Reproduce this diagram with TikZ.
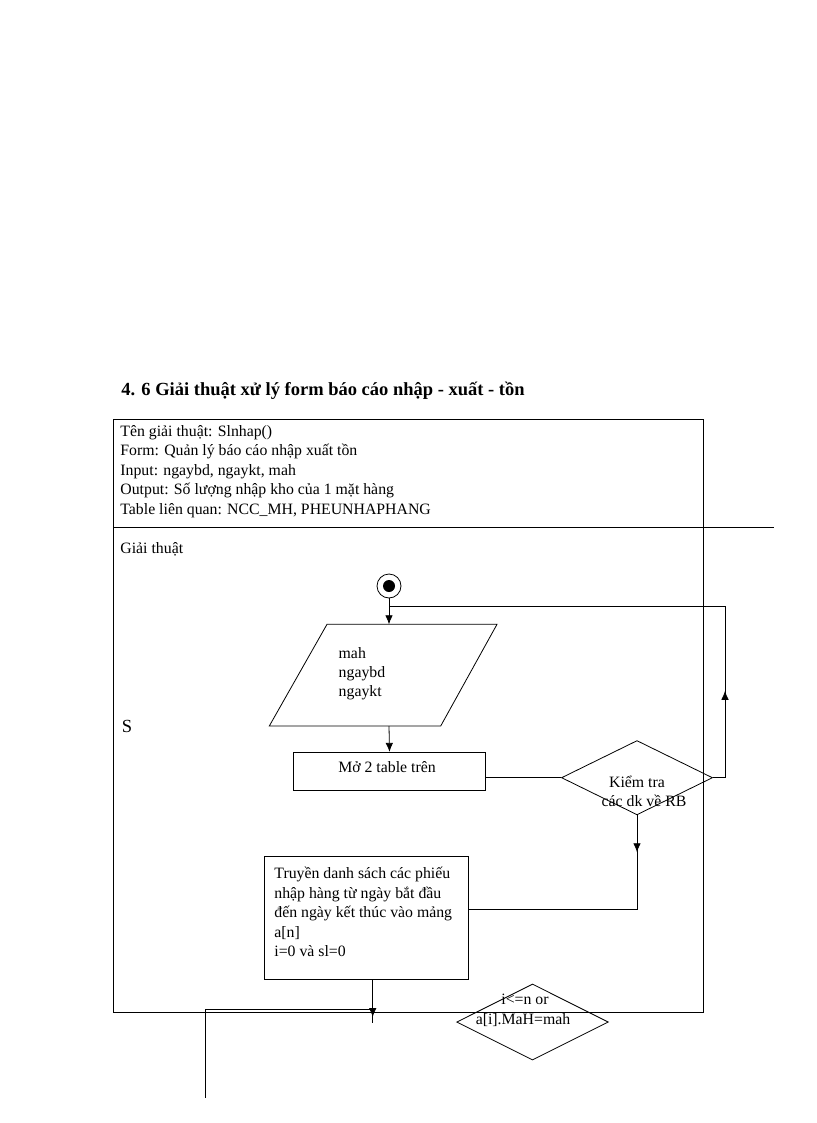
\documentclass[tikz,border=0pt]{standalone}
\usepackage{fontspec}
\setmainfont{Liberation Serif}
\usetikzlibrary{arrows.meta,shapes.geometric,decorations.markings}
\begin{document}
\begin{tikzpicture}[x=1pt,y=-1pt, line width=0.8pt,
  txt/.style={anchor=base west, inner sep=0pt, font=\fontsize{15.8}{19.4}\selectfont},
  ctxt/.style={anchor=base, inner sep=0pt, font=\fontsize{15.8}{19.4}\selectfont},
  arr/.style={-{Latex[length=9pt,width=7.5pt]}},
  box/.style={draw, rectangle, inner sep=0pt},
  dia/.style={draw, diamond, inner sep=0pt, aspect=2},
  midarr/.style={postaction={decorate}, decoration={markings, mark=at position #1 with {\arrow{Latex[length=9pt,width=7.5pt]}}}}
]
\useasboundingbox (0,0) rectangle (816,1123);

% title
\node[anchor=base west, inner sep=0pt, font=\bfseries\fontsize{18.5}{22}\selectfont] (title) at (121,395) {4. 6 Giải thuật xử lý form báo cáo nhập - xuất - tồn};

% frame
\node[box, minimum width=590pt, minimum height=593.7pt] (frame) at (408.3,715.85) {};
\coordinate (sepL) at (113.3,527);
\coordinate (sepR) at (774.3,527);
\draw (sepL) -- (sepR);

% header text
\node[txt] (h1) at (120,436) {Tên giải thuật: Slnhap()};
\node[txt] (h2) at (120,455.3) {Form: Quản lý báo cáo nhập xuất tồn};
\node[txt] (h3) at (120,475) {Input: ngaybd, ngaykt,\ mah};
\node[txt] (h4) at (120,494.7) {Output: Số lượng nhập kho của 1 mặt hàng};
\node[txt] (h5) at (120,514) {Table liên quan: NCC\_MH, PHEUNHAPHANG};
\node[txt] (h6) at (120,553.3) {Giải thuật};
\node[anchor=base west, inner sep=0pt, font=\fontsize{18.5}{22}\selectfont] (S) at (121.5,732.7) {S};

% start
\node[circle, draw, minimum size=24pt, inner sep=0pt] (start) at (389,586) {};
\node[circle, fill, minimum size=12pt, inner sep=0pt] (startdot) at (start) {};

% input parallelogram
\draw (327,624.3) -- (497,624.3) -- (440.7,726) -- (269.3,726) -- cycle;
\coordinate (pt) at (389,624.3);
\coordinate (pb) at (389,726);
\node[txt] (in1) at (338.3,658) {mah};
\node[txt] (in2) at (338.3,677.3) {ngaybd};
\node[txt] (in3) at (338.3,696.7) {ngaykt};

% rect 1
\node[box, minimum width=192.4pt, minimum height=38pt] (r1) at (389.5,771.3) {};
\node[ctxt] (r1t) at (387,772.7) {Mở 2 table trên};

% diamond 1
\node[dia, minimum width=151pt, minimum height=74.3pt] (d1) at (637,777.7) {};
\node[ctxt] (d1a) at (637,787.5) {Kiểm tra};
\node[ctxt] (d1b) at (644,806.5) {các dk về RB};

% rect 2
\node[box, minimum width=204pt, minimum height=123.3pt] (r2) at (366.3,917.6) {};
\node[txt] (r2a) at (274,878.7) {Truyền\ danh sách các phiếu};
\node[txt] (r2b) at (274,898) {nhập hàng từ ngày bắt đầu};
\node[txt] (r2c) at (274,917.3) {đến ngày kết thúc vào mảng};
\node[txt] (r2d) at (274,937) {a[n]};
\node[txt] (r2e) at (274,956.3) {i=0 và sl=0};

% diamond 2
\node[dia, minimum width=151.6pt, minimum height=76pt] (d2) at (532.5,1022) {};
\node[ctxt] (d2a) at (525,1004.5) {i<=n or};
\node[ctxt] (d2b) at (523,1024.5) {a[i].MaH=mah};

% connectors
\coordinate (loopjoin) at (389,606.7);
\coordinate (loopR) at (725,777.7);
\coordinate (c2) at (637,909.3);
\coordinate (c5) at (372.7,1022.7);
\coordinate (c6) at (372.7,1009.3);
\coordinate (c7) at (205,1009.3);
\coordinate (c8) at (205,1098.3);

\draw[arr] (start) -- (pt);
\draw[arr] (pb) -- (r1.north);
\draw (d1.west) -- (d1.west -| r1.east);
\draw[midarr=99pt] (d1.east) -- (loopR) |- (loopjoin);
\draw[midarr=37pt] (d1.south) -- (c2) -- (c2 -| r2.east);
\draw[midarr=37.4pt] (r2.south -| c5) -- (c5);
\draw (c6) -- (c7) -- (c8);
\end{tikzpicture}
\end{document}
